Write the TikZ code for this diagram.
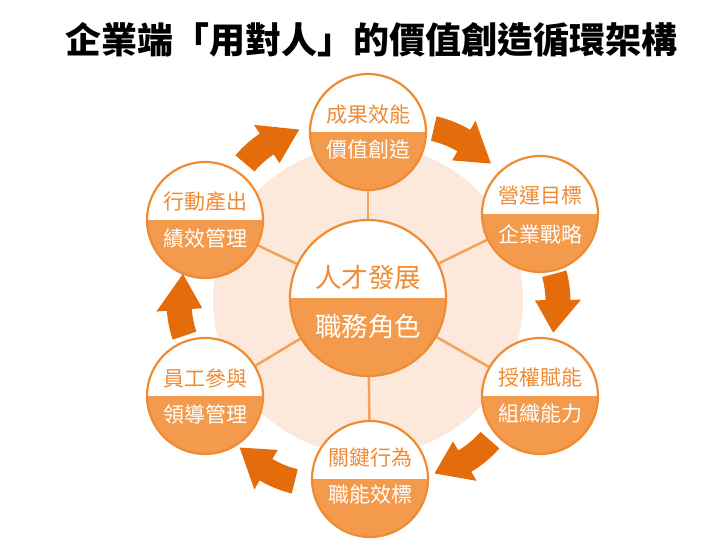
\documentclass[tikz,border=0pt]{standalone}
\usepackage{fontspec}
\setmainfont{Noto Sans CJK TC}
\usetikzlibrary{calc}
\definecolor{lineor}{HTML}{EF8B33}
\definecolor{fillor}{HTML}{F49A4C}
\definecolor{arrowor}{HTML}{E46C0A}
\definecolor{peach}{HTML}{FDE9DB}
\definecolor{spokeor}{HTML}{F4A15A}
% tail angle, head-base angle, tip angle, radius (angles about the ring centre)
% each arrow is bent round a local centre of radius 105
\newcommand\cyclearrow[4]{%
  \pgfmathsetmacro\midang{(#1+#3)/2}%
  \pgfmathsetmacro\tailang{\midang+(#1-\midang)*#4/105}%
  \pgfmathsetmacro\baseang{\midang+(#2-\midang)*#4/105}%
  \pgfmathsetmacro\tipang{\midang+(#3-\midang)*#4/105}%
  \begin{scope}[shift={(\midang:#4-105)}]
  \fill[arrowor] (\tailang:117.5) arc[start angle=\tailang,end angle=\baseang,radius=117.5]
    -- (\baseang:128) -- (\tipang:105) -- (\baseang:82) -- (\baseang:92.5)
    arc[start angle=\baseang,end angle=\tailang,radius=92.5] -- cycle;
  \end{scope}}
\tikzset{
  halfcirc/.style={circle, draw=lineor, line width=2.2pt, fill=white, inner sep=0pt,
    path picture={\fill[fillor] (path picture bounding box.west) rectangle (path picture bounding box.south east);}},
  outer/.style={halfcirc, minimum size=116pt},
  inner/.style={halfcirc, minimum size=156pt},
  uptext/.style={text=lineor, font=\fontsize{21}{23}\selectfont, inner sep=0pt},
  lowtext/.style={text=white, font=\fontsize{21}{23}\selectfont, inner sep=0pt},
  cuptext/.style={text=lineor, font=\fontsize{26.5}{28}\selectfont, inner sep=0pt},
  clowtext/.style={text=white, font=\fontsize{26.5}{28}\selectfont, inner sep=0pt},
  spoke/.style={draw=spokeor, line width=2.5pt},
}
\begin{document}
\begin{tikzpicture}[x=1pt,y=1pt]
\useasboundingbox (0,0) rectangle (720,540);
% title
\node[font=\bfseries\fontsize{36}{40}\selectfont, inner sep=0pt] (title) at (371,500) {企業端「用對人」的價值創造循環架構};
% background disk
\node[circle, fill=peach, minimum size=310pt, inner sep=0pt] (disk) at (368,240) {};
% circles
\node[inner] (ctr) at (368,242) {};
\node[outer] (nT)  at (368,408) {};
\node[outer] (nUR) at (540,326) {};
\node[outer] (nLR) at (540,144) {};
\node[outer] (nB)  at (370,61) {};
\node[outer] (nLL) at (205,144) {};
\node[outer] (nUL) at (205,320) {};
% spokes
\foreach \n in {nT,nUR,nLR,nB,nLL,nUL} \draw[spoke] (ctr) -- (\n);
% texts
\node[cuptext]  (c1) at (368,263) {人才發展};
\node[clowtext] (c2) at (368,214) {職務角色};
\node[uptext]  (t1) at (368,425) {成果效能};
\node[lowtext] (t2) at (368,390) {價值創造};
\node[uptext]  (ur1) at (540,344) {營運目標};
\node[lowtext] (ur2) at (540,306) {企業戰略};
\node[uptext]  (lr1) at (540,162) {授權賦能};
\node[lowtext] (lr2) at (540,126) {組織能力};
\node[uptext]  (b1) at (370,83) {關鍵行為};
\node[lowtext] (b2) at (370,45) {職能效標};
\node[uptext]  (ll1) at (205,162) {員工參與};
\node[lowtext] (ll2) at (205,126) {領導管理};
\node[uptext]  (ul1) at (205,338) {行動產出};
\node[lowtext] (ul2) at (205,302) {績效管理};
% cycle arrows
\begin{scope}[shift={(368,240)}]
  \cyclearrow{132}{123}{112}{186}
  \cyclearrow{69}{59}{48}{186}
  \cyclearrow{8}{0}{-10}{190}
  \cyclearrow{-49}{-59}{-69}{188}
  \cyclearrow{-112}{-121}{-131}{198}
  \cyclearrow{191}{183}{172}{189}
\end{scope}
\end{tikzpicture}
\end{document}
